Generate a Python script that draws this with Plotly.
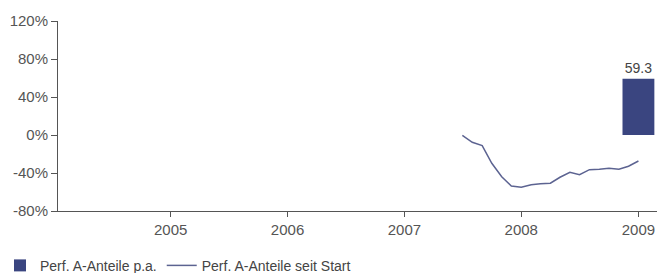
import plotly.graph_objects as go

# Data
bar_dates = ["2009-01-01"]
bar_values = [59.3]
bar_labels = ["59.3"]

line_dates = ["2007-07-01", "2007-08-01", "2007-09-01", "2007-10-01", "2007-11-01",
              "2007-12-01", "2008-01-01", "2008-02-01", "2008-03-01", "2008-04-01",
              "2008-05-01", "2008-06-01", "2008-07-01", "2008-08-01", "2008-09-01",
              "2008-10-01", "2008-11-01", "2008-12-01", "2009-01-01"]
line_values = [-0.5, -7.7, -11.2, -29.8, -43.9, -53.7, -55.0, -52.3, -51.3, -50.8,
               -44.5, -39.3, -41.8, -36.5, -36.1, -35.0, -36.1, -32.9, -27.4]

year_ticks = ["2005-01-01", "2006-01-01", "2007-01-01", "2008-01-01", "2009-01-01"]
year_labels = ["2005", "2006", "2007", "2008", "2009"]
y_ticks = [-80, -40, 0, 40, 80, 120]
y_labels = ["-80%", "-40%", "0%", "40%", "80%", "120%"]

FONT = "Liberation Sans, Arial, sans-serif"
GRAY = "#555555"

fig = go.Figure()
fig.add_trace(go.Bar(
    x=bar_dates, y=bar_values, name="Perf. A-Anteile p.a.",
    marker=dict(color="#3a4580", line=dict(width=0)),
    width=8.6e9,
    text=bar_labels, textposition="outside",
    textfont=dict(size=14, color="#444444", family=FONT),
    cliponaxis=False,
))
fig.add_trace(go.Scatter(
    x=line_dates, y=line_values, mode="lines", name="Perf. A-Anteile seit Start",
    line=dict(color="#5c6391", width=1.5),
))

fig.update_layout(
    width=659, height=273,
    margin=dict(l=58, r=2, t=21, b=62),
    paper_bgcolor="white", plot_bgcolor="white",
    font=dict(family=FONT, size=14, color=GRAY),
    showlegend=True,
    legend=dict(orientation="h", xref="container", yref="container",
                x=-0.053, xanchor="left", y=0.085, yanchor="top",
                font=dict(size=14, color="#444444", family=FONT),
                itemwidth=30, tracegroupgap=0, traceorder="normal"),
    xaxis=dict(
        type="date", range=["2004-01-15", "2009-02-28"],
        tickvals=year_ticks, ticktext=year_labels,
        showgrid=False, zeroline=False, automargin=False,
        showline=True, linecolor=GRAY, linewidth=1,
        ticks="outside", ticklen=5, tickcolor=GRAY,
        tickfont=dict(size=15, color=GRAY, family=FONT),
    ),
    yaxis=dict(
        range=[-80, 120], tickvals=y_ticks, ticktext=y_labels,
        showgrid=False, zeroline=False, automargin=False,
        showline=True, linecolor=GRAY, linewidth=1,
        ticks="outside", ticklen=6, tickcolor=GRAY,
        tickfont=dict(size=15, color=GRAY, family=FONT),
    ),
)

fig.write_html("out.html", config={"displayModeBar": False},
               post_script="document.body.style.margin='0';document.body.style.overflow='hidden';")
